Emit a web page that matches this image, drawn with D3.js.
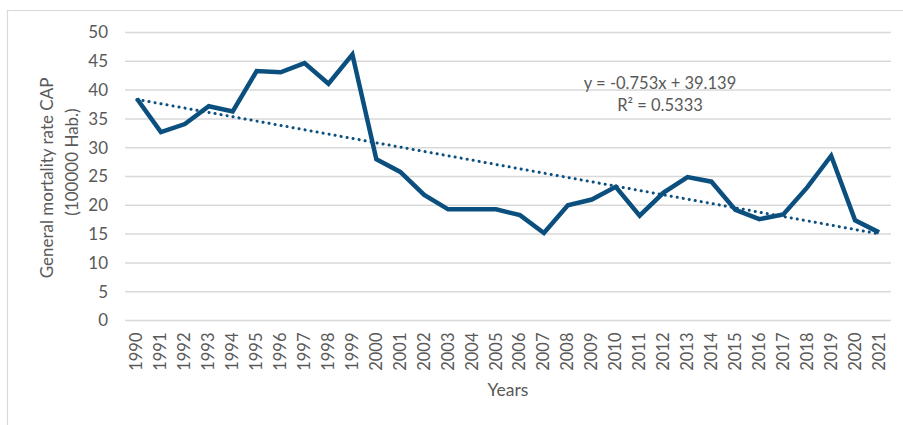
<!DOCTYPE html>
<html>
<head>
<meta charset="utf-8">
<script src="https://cdn.jsdelivr.net/npm/d3@7"></script>
<style>
  body { margin: 0; background: #fff; }
  text { font-family: Lato, "Open Sans", sans-serif; fill: #595959; }
</style>
</head>
<body>
<div id="chart"></div>
<script>
var years = ["1990","1991","1992","1993","1994","1995","1996","1997","1998","1999",
             "2000","2001","2002","2003","2004","2005","2006","2007","2008","2009",
             "2010","2011","2012","2013","2014","2015","2016","2017","2018","2019",
             "2020","2021"];
var rates = [38.5, 32.7, 34.1, 37.2, 36.3, 43.3, 43.1, 44.7, 41.1, 46.2,
             28.0, 25.8, 21.8, 19.3, 19.3, 19.3, 18.3, 15.2, 20.0, 21.0,
             23.2, 18.2, 22.2, 24.9, 24.1, 19.2, 17.6, 18.4, 23.1, 28.6,
             17.4, 15.3];
var yTicks = [0, 5, 10, 15, 20, 25, 30, 35, 40, 45, 50];
// linear trend shown on the chart
var trendSlope = -0.753, trendIntercept = 39.139;
var trendLabels = ["y = -0.753x + 39.139", "R² = 0.5333"];

var W = 903, H = 425;
var margin = { top: 32.5, right: 12, bottom: 104.5, left: 125 };
var width = W - margin.left - margin.right,
    height = H - margin.top - margin.bottom;

var svg = d3.select("#chart").append("svg")
    .attr("width", W)
    .attr("height", H);

// outer frame (only top and left edges visible)
svg.append("path")
    .attr("d", "M7.5," + H + "V10.5H" + W)
    .attr("fill", "none")
    .attr("stroke", "#d9d9d9")
    .attr("stroke-width", 1.2);

var g = svg.append("g")
    .attr("transform", "translate(" + margin.left + "," + margin.top + ")");

var x = d3.scaleBand().domain(years).range([0, width]);
var y = d3.scaleLinear().domain([0, 50]).range([height, 0]);

// gridlines
g.append("g")
    .selectAll("line")
    .data(yTicks)
    .join("line")
    .attr("x1", 0)
    .attr("x2", width)
    .attr("y1", function(d) { return y(d); })
    .attr("y2", function(d) { return y(d); })
    .attr("stroke", "#d9d9d9")
    .attr("stroke-width", 1.5);

// y axis labels
var yAxis = g.append("g")
    .attr("transform", "translate(-17,0)")
    .call(d3.axisLeft(y).tickValues(yTicks).tickSize(0).tickPadding(0));
yAxis.select(".domain").remove();
yAxis.selectAll("text")
    .attr("font-size", "17px")
    .attr("fill", "#595959")
    .attr("font-family", "Lato, sans-serif");

// x axis labels, rotated
var xAxis = g.append("g")
    .attr("transform", "translate(0," + height + ")")
    .call(d3.axisBottom(x).tickSize(0).tickPadding(0));
xAxis.select(".domain").remove();
xAxis.selectAll("text")
    .attr("font-size", "16.5px")
    .attr("fill", "#595959")
    .attr("font-family", "Lato, sans-serif")
    .attr("text-anchor", "end")
    .attr("dy", null)
    .attr("transform", "translate(5.5,12) rotate(-90)");

// trend line (dotted)
var first = 1, last = years.length;
g.append("path")
    .datum([first, last])
    .attr("fill", "none")
    .attr("stroke", "#0b4f7f")
    .attr("stroke-width", 3)
    .attr("stroke-linecap", "round")
    .attr("stroke-dasharray", "0.1,6")
    .attr("d", d3.line()
        .x(function(d) { return x(years[d - 1]) + x.bandwidth() / 2; })
        .y(function(d) { return y(trendSlope * d + trendIntercept); }));

// data line
g.append("path")
    .datum(rates)
    .attr("fill", "none")
    .attr("stroke", "#0b4f7f")
    .attr("stroke-width", 4.5)
    .attr("stroke-linejoin", "miter")
    .attr("d", d3.line()
        .x(function(d, i) { return x(years[i]) + x.bandwidth() / 2; })
        .y(function(d) { return y(d); }));

// trend equation
svg.selectAll(".eq")
    .data(trendLabels)
    .join("text")
    .attr("class", "eq")
    .attr("x", 660)
    .attr("y", function(d, i) { return 89 + i * 22; })
    .attr("text-anchor", "middle")
    .attr("font-size", "16.5px")
    .text(function(d) { return d; });

// axis titles
svg.append("text")
    .attr("transform", "translate(53,178) rotate(-90)")
    .attr("text-anchor", "middle")
    .attr("font-size", "17px")
    .text("General mortality rate CAP");
svg.append("text")
    .attr("transform", "translate(78,162) rotate(-90)")
    .attr("text-anchor", "middle")
    .attr("font-size", "17px")
    .text("(100000 Hab.)");
svg.append("text")
    .attr("x", 508)
    .attr("y", 396)
    .attr("text-anchor", "middle")
    .attr("font-size", "17.5px")
    .text("Years");
</script>
</body>
</html>
